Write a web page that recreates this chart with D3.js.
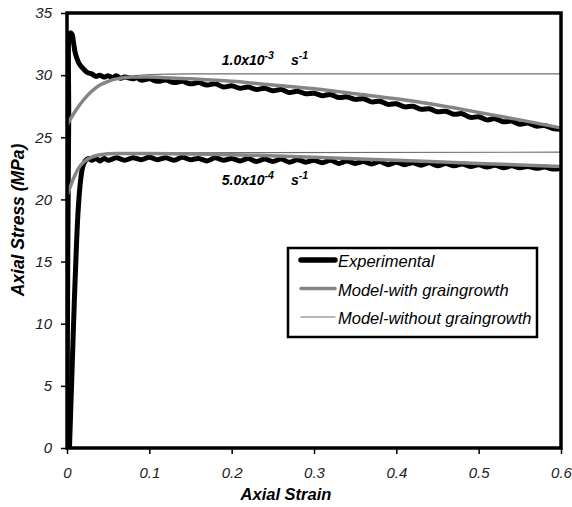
<!DOCTYPE html>
<html>
<head>
<meta charset="utf-8">
<script src="https://cdn.jsdelivr.net/npm/d3@7"></script>
<style>
  body { margin: 0; background: #fff; }
  svg { font-family: "Liberation Sans", Arial, sans-serif; }
  .tick text { font-style: italic; font-size: 15px; fill: #222; }
</style>
</head>
<body>
<div id="chart"></div>
<script>
// ---------------------------------------------------------------------------
// Data (strain, stress in MPa)

const xTicks = [0, 0.1, 0.2, 0.3, 0.4, 0.5, 0.6];
const yTicks = [0, 5, 10, 15, 20, 25, 30, 35];

const legendLabels = ['Experimental', 'Model-with graingrowth', 'Model-without graingrowth'];
const rateLabels = [['1.0x10', '-3', 's', '-1'], ['5.0x10', '-4', 's', '-1']];

// 1.0e-3 s^-1
const expHigh = [
  [0, 0], [0.002, 26], [0.004, 33.4], [0.006, 33.3], [0.008, 32.6], [0.01, 31.8], [0.015, 30.9],
  [0.02, 30.5], [0.025, 30.2], [0.03, 30.1], [0.035, 29.9], [0.04, 30.0], [0.045, 29.85],
  [0.05, 29.95], [0.055, 29.8], [0.06, 29.95], [0.065, 29.75], [0.07, 29.85], [0.08, 29.7],
  [0.085, 29.8], [0.09, 29.6], [0.1, 29.7], [0.11, 29.5], [0.12, 29.6], [0.13, 29.4],
  [0.14, 29.5], [0.15, 29.3], [0.16, 29.4], [0.17, 29.2], [0.18, 29.3], [0.19, 29.05],
  [0.2, 29.15], [0.21, 28.95], [0.22, 29.05], [0.23, 28.85], [0.24, 28.95], [0.25, 28.75],
  [0.26, 28.85], [0.27, 28.6], [0.28, 28.7], [0.29, 28.5], [0.3, 28.55], [0.31, 28.35],
  [0.32, 28.45], [0.33, 28.2], [0.34, 28.25], [0.35, 28.05], [0.36, 28.1], [0.37, 27.85],
  [0.38, 27.9], [0.39, 27.65], [0.4, 27.7], [0.41, 27.45], [0.42, 27.5], [0.43, 27.25],
  [0.44, 27.3], [0.45, 27.05], [0.46, 27.1], [0.47, 26.85], [0.48, 26.9], [0.49, 26.6],
  [0.5, 26.65], [0.51, 26.4], [0.52, 26.5], [0.53, 26.25], [0.54, 26.3], [0.55, 26.05],
  [0.56, 26.15], [0.57, 25.9], [0.58, 25.95], [0.59, 25.7], [0.6, 25.65]
];
const growthHigh = [
  [0, 26.0], [0.01, 27.1], [0.02, 28.0], [0.03, 28.7], [0.04, 29.2], [0.05, 29.5],
  [0.06, 29.7], [0.08, 29.85], [0.1, 29.85], [0.12, 29.8], [0.15, 29.7], [0.2, 29.5],
  [0.25, 29.2], [0.3, 28.9], [0.35, 28.5], [0.4, 28.1], [0.45, 27.6], [0.5, 27.0],
  [0.55, 26.4], [0.6, 25.75]
];
const noGrowthHigh = [
  [0, 26.0], [0.01, 27.1], [0.02, 28.0], [0.03, 28.7], [0.04, 29.2], [0.05, 29.55],
  [0.06, 29.8], [0.08, 29.95], [0.1, 30.05], [0.15, 30.1], [0.6, 30.1]
];

// 5.0e-4 s^-1
const expLow = [
  [0.003, 0], [0.005, 4], [0.007, 8], [0.009, 12], [0.011, 15.5], [0.013, 18.5], [0.015, 20.5],
  [0.017, 21.8], [0.019, 22.6], [0.022, 23.1], [0.026, 23.3], [0.03, 23.15], [0.035, 23.3],
  [0.04, 23.1], [0.045, 23.3], [0.05, 23.15], [0.06, 23.35], [0.07, 23.15], [0.08, 23.35],
  [0.09, 23.2], [0.1, 23.4], [0.11, 23.2], [0.12, 23.35], [0.13, 23.15], [0.14, 23.4],
  [0.15, 23.2], [0.16, 23.3], [0.17, 23.1], [0.18, 23.35], [0.19, 23.15], [0.2, 23.3],
  [0.21, 23.1], [0.22, 23.3], [0.23, 23.05], [0.24, 23.25], [0.25, 23.05], [0.26, 23.25],
  [0.27, 23.0], [0.28, 23.2], [0.29, 23.0], [0.3, 23.15], [0.31, 22.95], [0.32, 23.15],
  [0.33, 22.9], [0.34, 23.1], [0.35, 22.9], [0.36, 23.05], [0.37, 22.85], [0.38, 23.05],
  [0.39, 22.8], [0.4, 23.0], [0.41, 22.8], [0.42, 22.95], [0.43, 22.75], [0.44, 22.95],
  [0.45, 22.7], [0.46, 22.9], [0.47, 22.7], [0.48, 22.85], [0.49, 22.65], [0.5, 22.8],
  [0.51, 22.6], [0.52, 22.75], [0.53, 22.55], [0.54, 22.7], [0.55, 22.55], [0.56, 22.65],
  [0.57, 22.5], [0.58, 22.6], [0.59, 22.45], [0.6, 22.5]
];
const growthLow = [
  [0, 20.3], [0.005, 21.2], [0.01, 22.0], [0.015, 22.6], [0.02, 23.0], [0.03, 23.4],
  [0.04, 23.6], [0.06, 23.7], [0.1, 23.7], [0.2, 23.6], [0.3, 23.4], [0.4, 23.15],
  [0.5, 22.9], [0.6, 22.65]
];
const noGrowthLow = [
  [0, 20.3], [0.005, 21.2], [0.01, 22.0], [0.015, 22.6], [0.02, 23.0], [0.03, 23.4],
  [0.04, 23.6], [0.06, 23.75], [0.6, 23.8]
];

// label anchors (strain, stress)
const rateAnchors = [[0.188, 30.8], [0.188, 21.2]];

// ---------------------------------------------------------------------------
// Layout

const width = 572;
const height = 507;
const margin = { top: 13, right: 11, bottom: 59, left: 67 };
const innerW = width - margin.left - margin.right;
const innerH = height - margin.top - margin.bottom;

const svg = d3.select('#chart')
  .append('svg')
  .attr('width', width)
  .attr('height', height);

const g = svg.append('g')
  .attr('transform', `translate(${margin.left},${margin.top})`);

const x = d3.scaleLinear().domain([0, 0.6]).range([0, innerW]);
const y = d3.scaleLinear().domain([0, 35]).range([innerH, 0]);

const line = d3.line()
  .x(d => x(d[0]))
  .y(d => y(d[1]))
  .curve(d3.curveMonotoneX);

g.append('clipPath').attr('id', 'plot-clip')
  .append('rect').attr('x', 0).attr('y', 0).attr('width', innerW).attr('height', innerH);

const plot = g.append('g').attr('clip-path', 'url(#plot-clip)');

// series: thin model first, experimental, gray model on top
[noGrowthHigh, noGrowthLow].forEach(function(d) {
  plot.append('path').datum(d)
    .attr('fill', 'none').attr('stroke', '#6e6e6e').attr('stroke-width', 1.2)
    .attr('d', line);
});
[expHigh, expLow].forEach(function(d) {
  plot.append('path').datum(d)
    .attr('fill', 'none').attr('stroke', '#000').attr('stroke-width', 5)
    .attr('stroke-linejoin', 'round')
    .attr('d', d3.line().x(p => x(p[0])).y(p => y(p[1])).curve(d3.curveCatmullRom));
});
[growthHigh, growthLow].forEach(function(d) {
  plot.append('path').datum(d)
    .attr('fill', 'none').attr('stroke', '#858585').attr('stroke-width', 3.5)
    .attr('d', line);
});

// axes
const xAxis = g.append('g')
  .attr('transform', `translate(0,${innerH})`)
  .call(d3.axisBottom(x).tickValues(xTicks).tickSize(6).tickPadding(13)
    .tickFormat(d => d === 0 ? '0' : d3.format('.1f')(d)));
const yAxis = g.append('g')
  .call(d3.axisLeft(y).tickValues(yTicks).tickSize(6).tickPadding(9));
[xAxis, yAxis].forEach(function(a) {
  a.select('.domain').remove();
  a.selectAll('.tick line').attr('stroke', '#000').attr('stroke-width', 1.5);
});

// frame
g.append('rect')
  .attr('x', 0).attr('y', 0).attr('width', innerW).attr('height', innerH)
  .attr('fill', 'none').attr('stroke', '#000').attr('stroke-width', 3.5);

// axis titles
svg.append('text')
  .attr('x', 286).attr('y', 500)
  .attr('text-anchor', 'middle')
  .style('font-weight', 'bold').style('font-style', 'italic').style('font-size', '16.5px')
  .text('Axial Strain');
svg.append('text')
  .attr('transform', 'translate(24,220) rotate(-90)')
  .attr('text-anchor', 'middle')
  .style('font-weight', 'bold').style('font-style', 'italic').style('font-size', '17.5px')
  .text('Axial Stress (MPa)');

// strain rate labels
rateLabels.forEach(function(parts, i) {
  const t = g.append('text')
    .attr('x', x(rateAnchors[i][0])).attr('y', y(rateAnchors[i][1]))
    .style('font-weight', 'bold').style('font-style', 'italic').style('font-size', '14px');
  t.append('tspan').text(parts[0]);
  t.append('tspan').attr('dy', -6).style('font-size', '10.5px').text(parts[1]);
  t.append('tspan').attr('dy', 6).attr('dx', 17).text(parts[2]);
  t.append('tspan').attr('dy', -6).style('font-size', '10.5px').text(parts[3]);
});

// legend
const legend = svg.append('g').attr('transform', 'translate(288,248)');
legend.append('rect')
  .attr('width', 249).attr('height', 89)
  .attr('fill', '#fff').attr('stroke', '#000').attr('stroke-width', 2.5);
const legendStyles = [
  { stroke: '#000', width: 5.5 },
  { stroke: '#858585', width: 3.5 },
  { stroke: '#6e6e6e', width: 1.2 }
];
legendLabels.forEach(function(label, i) {
  const row = legend.append('g').attr('transform', `translate(0,${12 + i * 28.5})`);
  row.append('line')
    .attr('x1', 13).attr('x2', 47).attr('y1', 0).attr('y2', 0)
    .attr('stroke', legendStyles[i].stroke).attr('stroke-width', legendStyles[i].width)
    .attr('stroke-linecap', 'round');
  row.append('text')
    .attr('x', 50).attr('y', 7)
    .style('font-style', 'italic').style('font-size', '16.5px')
    .text(label);
});
</script>
</body>
</html>
